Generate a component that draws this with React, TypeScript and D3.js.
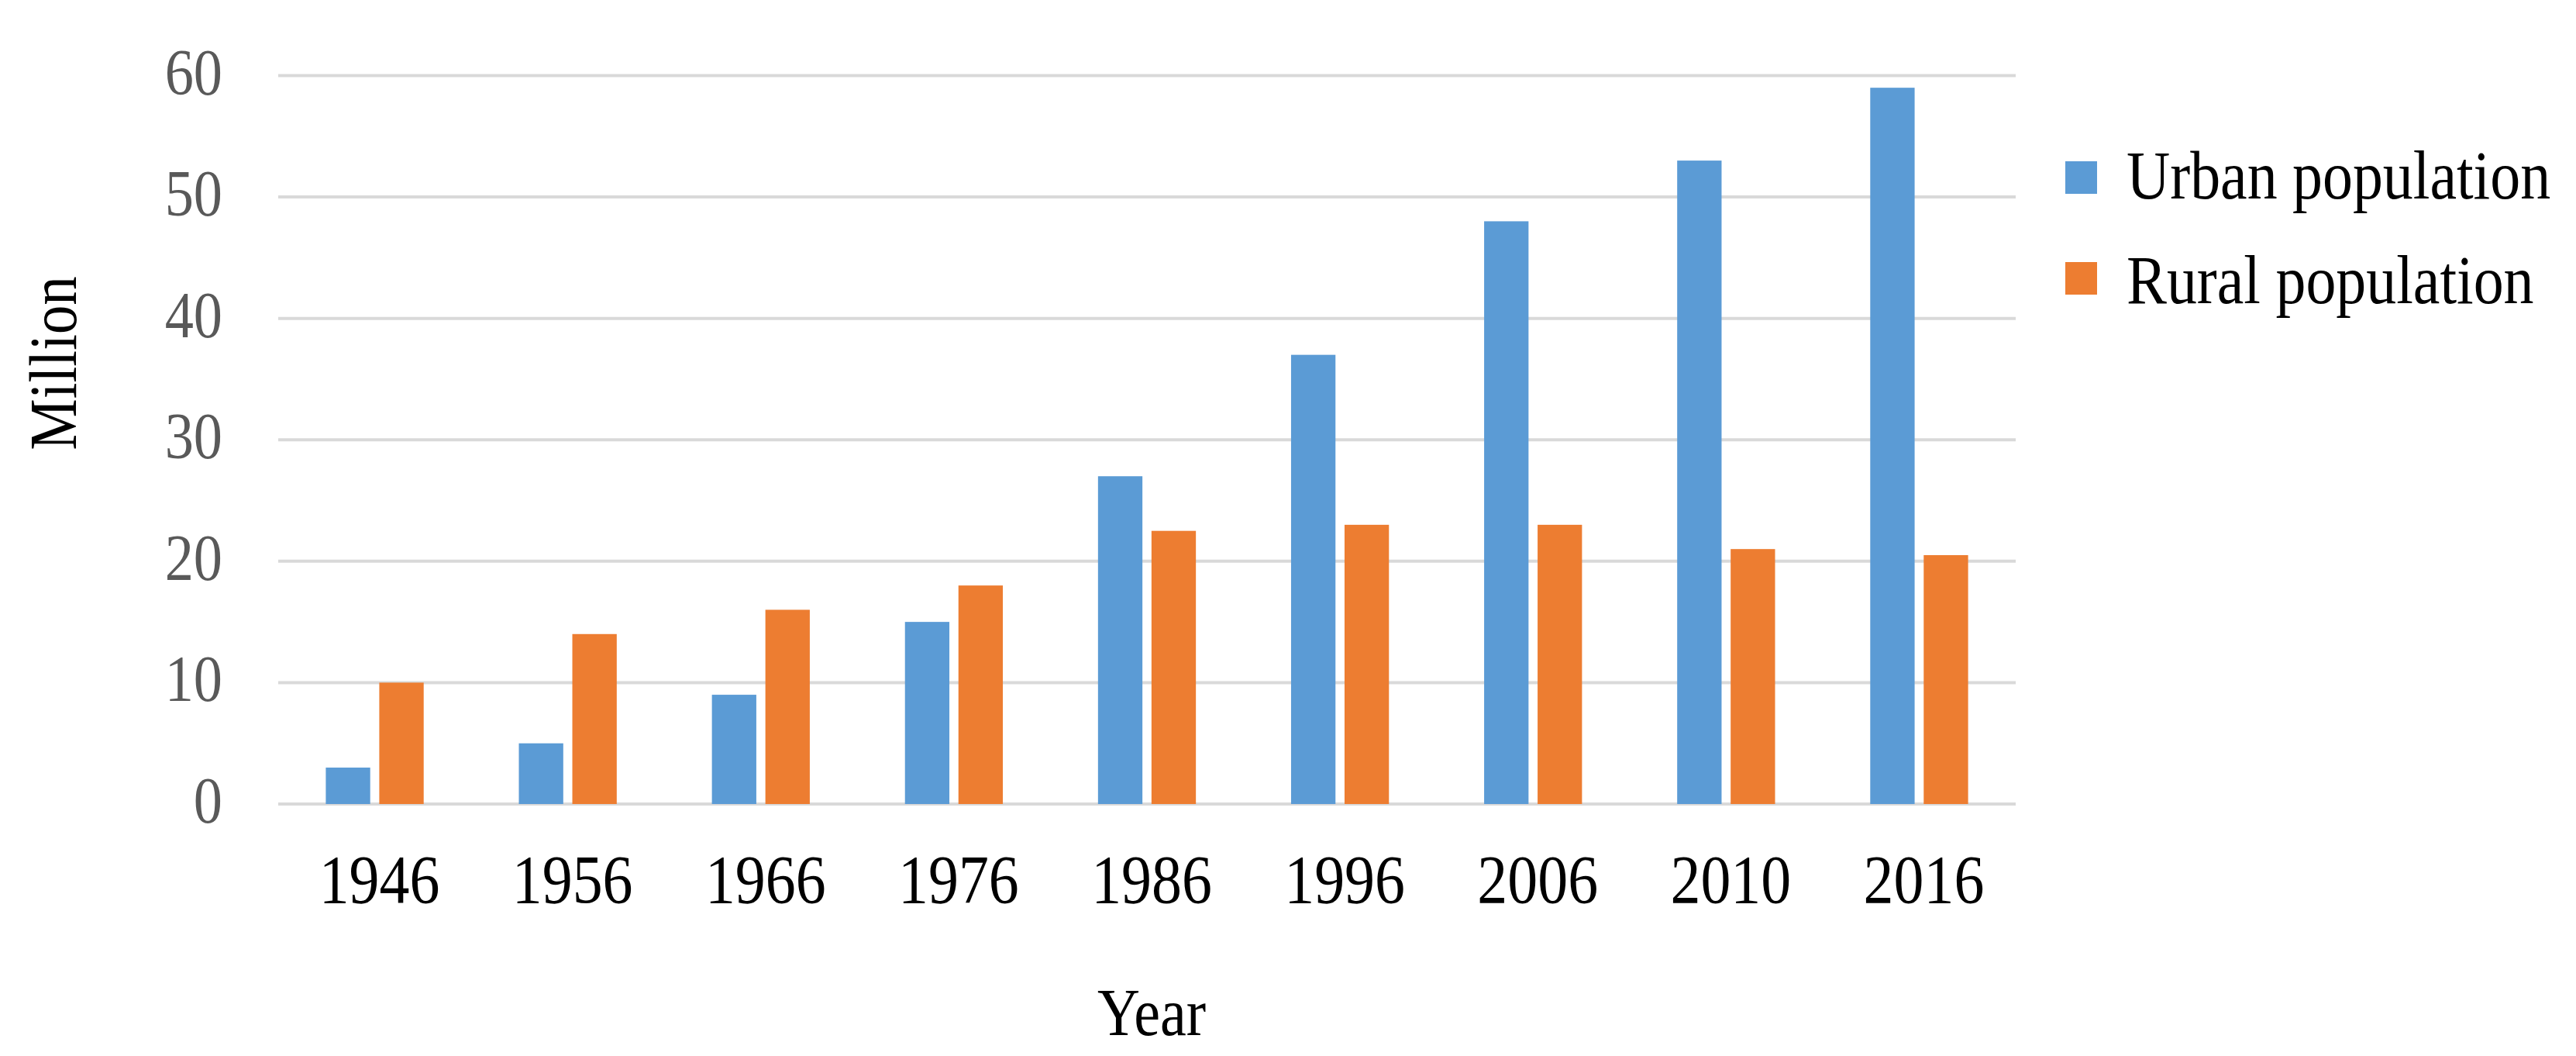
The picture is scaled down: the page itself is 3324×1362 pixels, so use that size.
import React from "react";
import * as d3 from "d3";

const years = ["1946", "1956", "1966", "1976", "1986", "1996", "2006", "2010", "2016"];
const urban = [3, 5, 9, 15, 27, 37, 48, 53, 59];
const rural = [10, 14, 16, 18, 22.5, 23, 23, 21, 20.5];
const yTicks = [0, 10, 20, 30, 40, 50, 60];
const seriesNames = ["Urban population", "Rural population"];
const seriesColors = ["#5B9BD5", "#ED7D31"];

const W = 3324;
const H = 1362;
const FONT = "'Liberation Serif', 'Times New Roman', serif";
const SX = 0.885;

export default function App() {
  const x = d3.scaleBand<string>().domain(years).range([359, 2601]).paddingInner(0).paddingOuter(0);
  const y = d3.scaleLinear().domain([0, 60]).range([1037, 97.5]);
  const band = x.bandwidth();
  const bw = band * 0.23;
  const gap = band * 0.047;
  const groupW = bw * 2 + gap;
  const series = [urban, rural];

  return (
    <svg width={W} height={H} style={{ position: "absolute", left: 0, top: 0, display: "block", background: "#fff" }}>
      <rect x={0} y={0} width={W} height={H} fill="#fff" />
      {yTicks.map((t) => (
        <line key={"g" + t} x1={359} x2={2601} y1={y(t)} y2={y(t)} stroke="#D9D9D9" strokeWidth={4} />
      ))}
      {yTicks.map((t) => (
        <text
          key={"yl" + t}
          transform={`translate(287,${y(t) + 24}) scale(${SX},1)`}
          textAnchor="end"
          fontFamily={FONT}
          fontSize={84}
          fill="#595959"
        >
          {t}
        </text>
      ))}
      {series.map((vals, si) =>
        years.map((yr, i) => {
          const x0 = (x(yr) as number) + band / 2 - groupW / 2 + si * (bw + gap);
          return (
            <rect
              key={si + "-" + yr}
              x={x0}
              y={y(vals[i])}
              width={bw}
              height={y(0) - y(vals[i])}
              fill={seriesColors[si]}
            />
          );
        })
      )}
      {years.map((yr) => (
        <text
          key={"xl" + yr}
          transform={`translate(${(x(yr) as number) + band / 2 + 6},1164) scale(${SX},1)`}
          textAnchor="middle"
          fontFamily={FONT}
          fontSize={88}
          fill="#000"
        >
          {yr}
        </text>
      ))}
      <text
        transform={`translate(98,468.5) rotate(-90) scale(0.87,1)`}
        textAnchor="middle"
        fontFamily={FONT}
        fontSize={86}
        fill="#000"
      >
        Million
      </text>
      <text
        transform={`translate(1486,1335) scale(${SX},1)`}
        textAnchor="middle"
        fontFamily={FONT}
        fontSize={86}
        fill="#000"
      >
        Year
      </text>
      {seriesNames.map((name, i) => (
        <g key={name}>
          <rect x={2665} y={208 + i * 130} width={41} height={42} fill={seriesColors[i]} />
          <text
            transform={`translate(2744,${256 + i * 135}) scale(${SX},1)`}
            fontFamily={FONT}
            fontSize={88}
            fill="#000"
          >
            {name}
          </text>
        </g>
      ))}
    </svg>
  );
}
